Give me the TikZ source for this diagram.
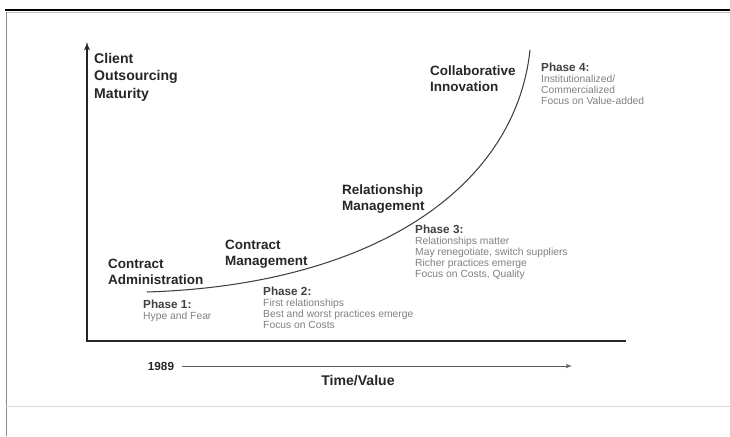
\documentclass[tikz,border=0pt]{standalone}
\usepackage{fontspec}
\setmainfont{Liberation Sans}
\usetikzlibrary{arrows}

\begin{document}
\begin{tikzpicture}[x=0.03cm,y=-0.03cm]

	\tikzset{axis/.style = {line width=1.4pt,black!85,> = latex'}}
	\tikzset{curve/.style = {line width=0.9pt,black!75}}
	\tikzset{timeline/.style = {->,> = latex',line width=0.8pt,black!65,shorten <=7pt}}
	\tikzset{axtitle/.style = {align=left,inner sep=0,text=black!85,font=\fontsize{12}{14.9}\selectfont\bfseries}}
	\tikzset{stage/.style = {anchor=west,align=left,inner sep=0,text=black!85,font=\fontsize{11.5}{13.4}\selectfont\bfseries}}
	\tikzset{phase/.style = {anchor=north west,align=left,inner sep=0,text=black!50,font=\fontsize{8.8}{9.4}\selectfont}}

	\useasboundingbox (0,0) rectangle (730,436);

	% frame of the slide
	\draw[line width=1.7pt] (5,10) -- (730,10);
	\draw[black!25,line width=0.8pt] (6,12) -- (730,12);
	\draw[black!45,line width=0.7pt] (6,12) -- (6,436);
	\draw[black!15,line width=0.6pt] (6,406) -- (730,406);

	% axes
	\coordinate (origin) at (87,341);
	\coordinate (ytop) at (87,42);
	\coordinate (xend) at (626,341);
	\draw[axis,<-] (ytop) -- (origin) -- (xend);

	\node[axtitle,anchor=west] (maturity) at (94,77) {Client\\Outsourcing\\Maturity};

	\node[axtitle,font=\fontsize{10}{12}\selectfont\bfseries] (year) at (161,366) {1989};
	\coordinate (tend) at (572,366);
	\draw[timeline] (year) -- (tend);
	\node[axtitle] (timevalue) at (358,381) {Time/Value};

	% maturity curve
	\coordinate (cstart) at (147,292);
	\coordinate (cend) at (530,50);
	\draw[curve] (cstart) .. controls (370,285) and (515,190) .. (cend);

	% stages
	\node[stage] (admin) at (108,272) {Contract\\Administration};
	\node[stage] (cmgmt) at (225,254) {Contract\\Management};
	\node[stage] (rmgmt) at (342,199) {Relationship\\Management};
	\node[stage] (innov) at (430,79) {Collaborative\\Innovation};

	% phases
	\node[phase] (ph1) at (143,300) {{\color{black!75}\fontsize{10}{9.4}\selectfont\textbf{Phase 1:}}\\Hype and Fear};
	\node[phase] (ph2) at (263,287) {{\color{black!75}\fontsize{10}{9.4}\selectfont\textbf{Phase 2:}}\\First relationships\\Best and worst practices emerge\\Focus on Costs};
	\node[phase] (ph3) at (415,225) {{\color{black!75}\fontsize{10}{9.4}\selectfont\textbf{Phase 3:}}\\Relationships matter\\May renegotiate, switch suppliers\\Richer practices emerge\\Focus on Costs, Quality};
	\node[phase] (ph4) at (541,63) {{\color{black!75}\fontsize{10}{9.4}\selectfont\textbf{Phase 4:}}\\Institutionalized/\\Commercialized\\Focus on Value-added};

\end{tikzpicture}
\end{document}
